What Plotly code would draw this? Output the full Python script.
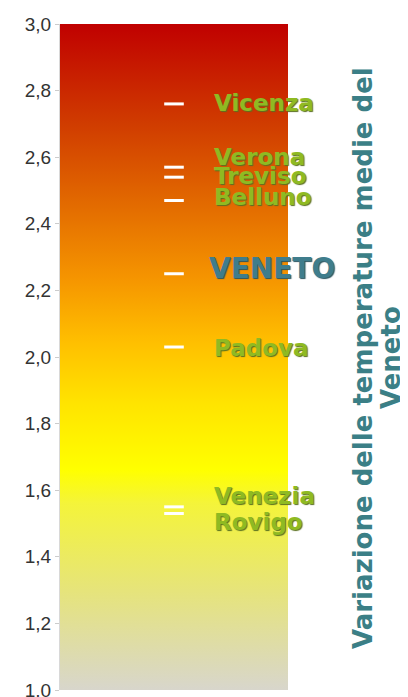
import plotly.graph_objects as go

# Data
places = ["Vicenza", "Verona", "Treviso", "Belluno", "VENETO", "Padova", "Venezia", "Rovigo"]
values = [2.76, 2.57, 2.54, 2.47, 2.25, 2.03, 1.55, 1.53]
label_shift = [1, 10, 1, 3, 5, -1, 11, -8]  # px offsets for readability
y_range = [1.0, 3.0]
tick_vals = [1.0, 1.2, 1.4, 1.6, 1.8, 2.0, 2.2, 2.4, 2.6, 2.8, 3.0]
title_lines = ["Variazione delle temperature medie del", "Veneto"]

gradient = [
    [0.00, "#d8d6cc"],
    [0.15, "#e6e47a"],
    [0.28, "#f4f43a"],
    [0.33, "#ffff00"],
    [0.43, "#ffe400"],
    [0.52, "#ffc000"],
    [0.62, "#f59400"],
    [0.72, "#e46e00"],
    [0.85, "#d03c00"],
    [1.00, "#c00000"],
]

W, H = 400, 689          # page has an 8px body margin
ML, MR, MT, MB = 52, 120, 16, 7
PW, PH = W - ML - MR, H - MT - MB
OFF = 8

def px_to_paper(xp, yp):
    return (xp - OFF - ML) / PW, 1 - (yp - OFF - MT) / PH

fig = go.Figure()

# gradient background bar
fig.add_trace(go.Scatter(
    x=[0, 1, 1, 0, 0],
    y=[y_range[0], y_range[0], y_range[1], y_range[1], y_range[0]],
    mode="lines", line=dict(width=0), fill="toself",
    fillgradient=dict(type="vertical", colorscale=gradient,
                      start=y_range[0], stop=y_range[1]),
    hoverinfo="skip", showlegend=False,
))

# white dashes
fig.add_trace(go.Scatter(
    x=[0.5] * len(values), y=values, mode="markers",
    marker=dict(symbol="line-ew", size=14, line=dict(color="white", width=3)),
    showlegend=False, hoverinfo="skip",
))

for name, v, s in zip(places, values, label_shift):
    is_total = name == "VENETO"
    fig.add_annotation(
        x=0.665 if not is_total else 0.643, y=v, xref="x", yref="y",
        text=name, showarrow=False, xanchor="left", yshift=s,
        font=dict(family="DejaVu Sans", size=28 if is_total else 23,
                  color="#3f7d8c" if is_total else "#8fba22",
                  weight="bold",
                  shadow="1px 1px 1px #5a7020" if not is_total else "1px 1px 1px #2a5560"),
    )

for line, xpx in zip(title_lines, [363, 391]):
    px, py = px_to_paper(xpx, 358)
    fig.add_annotation(
        x=px, y=py, xref="paper", yref="paper",
        text=line, showarrow=False, textangle=-90, xanchor="center", yanchor="middle",
        font=dict(family="DejaVu Sans", size=26, color="#3b7f86", weight="bold"),
    )

fig.update_layout(
    width=W, height=H,
    margin=dict(l=ML, r=MR, t=MT, b=MB, autoexpand=False),
    paper_bgcolor="white", plot_bgcolor="white",
    separators=", ",
    xaxis=dict(range=[0, 1], visible=False, fixedrange=True),
    yaxis=dict(range=y_range, tickvals=tick_vals, tickformat=".1f",
               ticks="outside", ticklen=4, tickcolor="#cccccc",
               ticklabeloverflow="allow", automargin=False,
               showgrid=False, zeroline=False, showline=True, linecolor="#d8d8d8",
               tickfont=dict(family="Liberation Sans", size=19, color="#333333")),
)

fig.write_html("out.html")
